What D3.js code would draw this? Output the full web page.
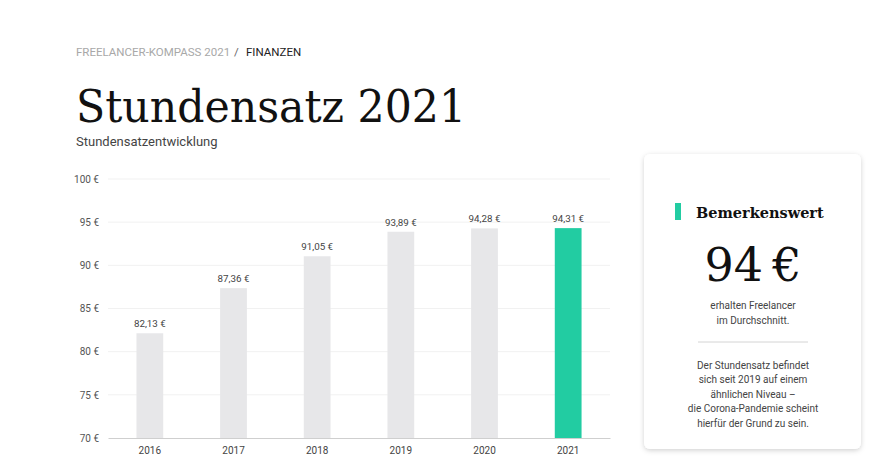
<!DOCTYPE html>
<html><head><meta charset="utf-8">
<script src="https://cdn.jsdelivr.net/npm/d3@7"></script>
<style>body{margin:0;background:#fff;}svg{display:block;}</style>
</head><body>
<svg id="c" width="881" height="473"></svg>
<script>
const years = ["2016","2017","2018","2019","2020","2021"];
const rates = [82.13, 87.36, 91.05, 93.89, 94.28, 94.31];
const yTicks = [70, 75, 80, 85, 90, 95, 100];
const highlightYear = "2021";
const noteLines1 = ["erhalten Freelancer", "im Durchschnitt."];
const noteLines2 = ["Der Stundensatz befindet", "sich seit 2019 auf einem", "ähnlichen Niveau –", "die Corona-Pandemie scheint", "hierfür der Grund zu sein."];

const svg = d3.select("#c");
const sans = "Roboto, 'Noto Sans', sans-serif";
const serif = "'DejaVu Serif', 'Liberation Serif', serif";
const fmt = v => v.toFixed(2).replace(".", ",") + " €";

// header
const bc = svg.append("text").attr("y", 56).attr("font-family", sans).attr("font-size", 11.5);
bc.append("tspan").attr("x", 76).attr("fill", "#a8a8a8").text("FREELANCER-KOMPASS 2021");
bc.append("tspan").attr("x", 234).attr("fill", "#666").text("/");
bc.append("tspan").attr("x", 246).attr("fill", "#222").text("FINANZEN");
svg.append("text").attr("x", 76).attr("y", 122).attr("font-family", serif).attr("font-size", 45)
  .attr("fill", "#111").attr("textLength", 390).attr("lengthAdjust", "spacingAndGlyphs").text("Stundensatz 2021");
svg.append("text").attr("x", 76).attr("y", 146).attr("font-family", sans).attr("font-size", 13)
  .attr("fill", "#444").text("Stundensatzentwicklung");

// chart
const x = d3.scaleBand().domain(years).range([108, 610]).paddingInner(0.68).paddingOuter(0.34);
const y = d3.scaleLinear().domain([70, 100]).range([438, 179]);

const g = svg.append("g");
g.selectAll(".grid").data(yTicks.filter(t => t > 70)).join("line")
  .attr("x1", 108).attr("x2", 610).attr("y1", d => y(d)).attr("y2", d => y(d))
  .attr("stroke", "#f1f1f1").attr("stroke-width", 1);

const yAxis = g.append("g").attr("transform", "translate(108,0)")
  .call(d3.axisLeft(y).tickValues(yTicks).tickSize(0).tickPadding(9).tickFormat(d => d + " €"));
yAxis.select(".domain").remove();
yAxis.selectAll("text").attr("font-family", sans).attr("font-size", 10).attr("fill", "#555");

g.selectAll(".bar").data(years).join("rect")
  .attr("x", d => x(d)).attr("width", x.bandwidth())
  .attr("y", (d, i) => y(rates[i])).attr("height", (d, i) => y(70) - y(rates[i]))
  .attr("fill", d => d === highlightYear ? "#22cca2" : "#e7e7e9");

g.selectAll(".val").data(years).join("text")
  .attr("x", d => x(d) + x.bandwidth() / 2).attr("y", (d, i) => y(rates[i]) - 6)
  .attr("text-anchor", "middle").attr("font-family", sans).attr("font-size", 9.8).attr("fill", "#444")
  .text((d, i) => fmt(rates[i]));

const xAxis = g.append("g").attr("transform", "translate(0,438)")
  .call(d3.axisBottom(x).tickSize(0).tickPadding(9));
xAxis.select(".domain").attr("stroke", "#cfcfcf");
xAxis.selectAll("text").attr("font-family", sans).attr("font-size", 10).attr("fill", "#444");

// card
const defs = svg.append("defs");
const f = defs.append("filter").attr("id", "sh").attr("x", "-20%").attr("y", "-20%").attr("width", "140%").attr("height", "140%");
f.append("feDropShadow").attr("dx", 0).attr("dy", 1.5).attr("stdDeviation", 2.5).attr("flood-color", "#000").attr("flood-opacity", 0.18);
svg.append("rect").attr("x", 644).attr("y", 154).attr("width", 217).attr("height", 295).attr("rx", 6)
  .attr("fill", "#fff").attr("filter", "url(#sh)");
svg.append("rect").attr("x", 675).attr("y", 203).attr("width", 6).attr("height", 17).attr("fill", "#22cca2");
svg.append("text").attr("x", 696).attr("y", 218).attr("font-family", serif).attr("font-weight", "bold")
  .attr("font-size", 14.5).attr("fill", "#111").text("Bemerkenswert");
svg.append("text").attr("x", 753).attr("y", 281).attr("text-anchor", "middle").attr("font-family", serif)
  .attr("font-size", 46).attr("fill", "#111").text("94\u2009€");
svg.selectAll(".n1").data(noteLines1).join("text")
  .attr("x", 753).attr("y", (d, i) => 309 + i * 15).attr("text-anchor", "middle")
  .attr("font-family", sans).attr("font-size", 10).attr("fill", "#444").text(d => d);
svg.append("line").attr("x1", 698).attr("x2", 808).attr("y1", 342).attr("y2", 342).attr("stroke", "#d4d4d4");
svg.selectAll(".n2").data(noteLines2).join("text")
  .attr("x", 753).attr("y", (d, i) => 368.5 + i * 14.5).attr("text-anchor", "middle")
  .attr("font-family", sans).attr("font-size", 10).attr("fill", "#444").text(d => d);
</script>
</body></html>
